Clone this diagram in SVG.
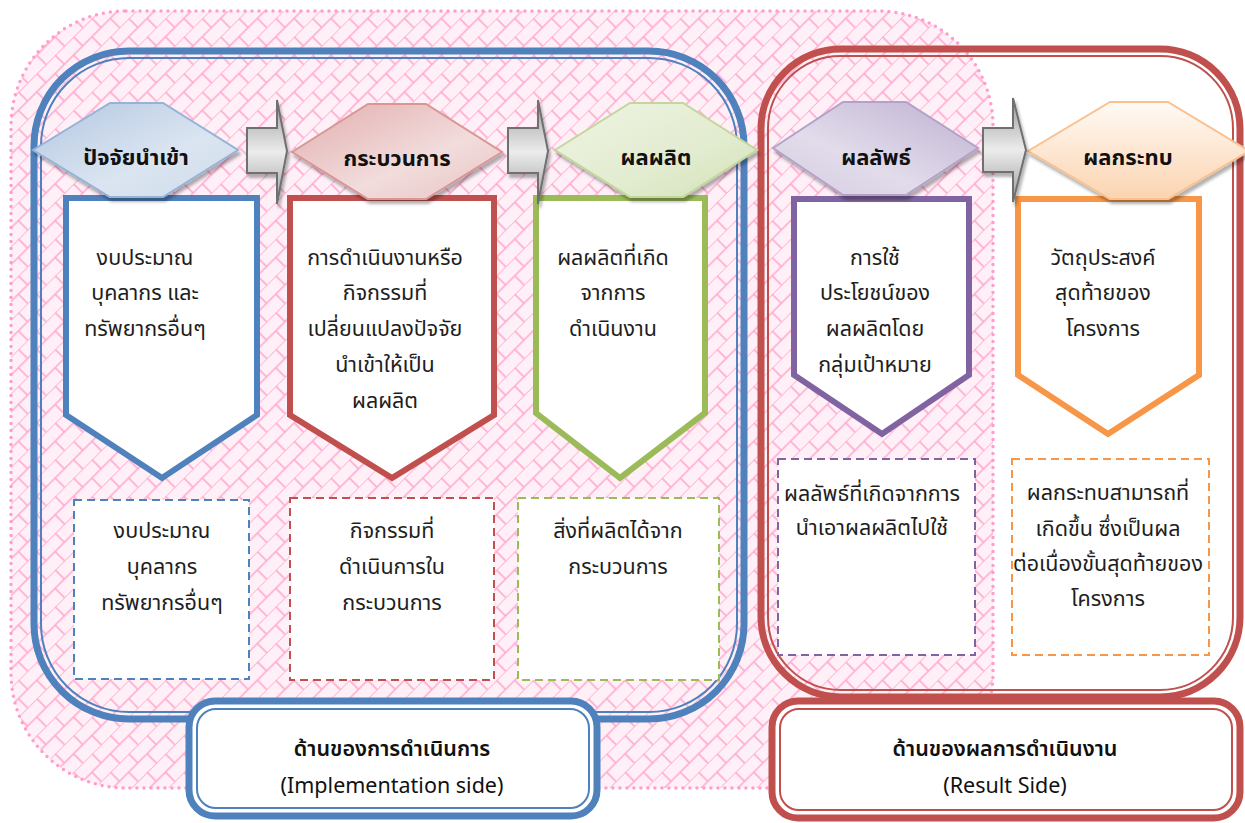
<svg xmlns="http://www.w3.org/2000/svg" width="1245" height="823" viewBox="0 0 1245 823">
<style>
.t{font-family:"Noto Sans Thai","Noto Sans","DejaVu Sans",sans-serif;font-size:21.5px;fill:#1e1e1e;text-anchor:middle}
.h{font-family:"Noto Sans Thai","Noto Sans","DejaVu Sans",sans-serif;font-size:22px;font-weight:bold;fill:#111;text-anchor:middle}
.pent{fill:#fff;stroke-width:6;stroke-linejoin:miter}
.dash{fill:#fff;stroke-width:2;stroke-dasharray:8 5}
.arr{stroke:#6f6f6f;stroke-width:2;fill:url(#gArr);filter:url(#sh)}
</style>
<defs>
<pattern id="brick" width="26" height="26" patternUnits="userSpaceOnUse" patternTransform="rotate(-45)">
<rect width="26" height="26" fill="#fff0f7"/>
<path d="M0 0H26M0 13H26M0 0V13M13 13V26M26 0V13" stroke="#ffa8cf" stroke-width="1.6" fill="none"/>
</pattern>
<filter id="sh" x="-10%" y="-10%" width="130%" height="140%"><feDropShadow dx="2" dy="4" stdDeviation="1.5" flood-color="#000" flood-opacity="0.3"/></filter>
<linearGradient id="gArr" x1="0" y1="0" x2="0" y2="1"><stop offset="0" stop-color="#9a9a9a"/><stop offset="0.5" stop-color="#ececec"/><stop offset="1" stop-color="#9a9a9a"/></linearGradient>
<linearGradient id="gB" x1="0" y1="0" x2="1" y2="1"><stop offset="0" stop-color="#b3c7e1"/><stop offset="0.6" stop-color="#dbe5f1"/><stop offset="1" stop-color="#cfdcec"/></linearGradient>
<linearGradient id="gR" x1="0" y1="0" x2="1" y2="1"><stop offset="0" stop-color="#e2aeae"/><stop offset="0.6" stop-color="#f2dcdc"/><stop offset="1" stop-color="#e8c4c3"/></linearGradient>
<linearGradient id="gG" x1="0" y1="0" x2="1" y2="1"><stop offset="0" stop-color="#eef4e2"/><stop offset="0.6" stop-color="#e2ecd0"/><stop offset="1" stop-color="#d2e1b6"/></linearGradient>
<linearGradient id="gP" x1="1" y1="0" x2="0" y2="1"><stop offset="0" stop-color="#bfb1d2"/><stop offset="0.6" stop-color="#e1dbea"/><stop offset="1" stop-color="#d6cee3"/></linearGradient>
<linearGradient id="gO" x1="0" y1="0" x2="0" y2="1"><stop offset="0" stop-color="#fffaf5"/><stop offset="1" stop-color="#fbd4b0"/></linearGradient>
</defs>

<g id="background">
<rect x="11" y="11" width="982" height="777" rx="115" fill="url(#brick)" stroke="#ff9ecb" stroke-width="3.5" stroke-dasharray="0 7" stroke-linecap="round"/>
</g>

<g id="implementation-frame">
<rect x="34" y="51" width="710" height="668" rx="95" fill="none" stroke="#4f81bd" stroke-width="7"/>
<rect x="41" y="58" width="696" height="654" rx="88" fill="none" stroke="#4f81bd" stroke-width="2"/>
</g>
<g id="result-frame">
<rect x="761" y="49" width="479" height="648" rx="80" fill="none" stroke="#c0504d" stroke-width="7"/>
<rect x="768" y="56" width="465" height="634" rx="73" fill="none" stroke="#c0504d" stroke-width="2"/>
</g>

<g id="node-input">
<path class="pent" stroke="#4f81bd" d="M66 198H257V415L162 478L66 415Z"/>
<polygon points="33,150 110,103 163,103 238,150 163,197 110,197" fill="url(#gB)" stroke="#95b3d7" stroke-width="2" filter="url(#sh)"/>
<text class="h" x="136" y="165">ปัจจัยนำเข้า</text>
<text class="t" x="145" y="265">งบประมาณ</text>
<text class="t" x="145" y="300">บุคลากร และ</text>
<text class="t" x="145" y="336">ทรัพยากรอื่นๆ</text>
</g>
<g id="node-process">
<path class="pent" stroke="#c0504d" d="M290 198H494V415L392 478L290 415Z"/>
<polygon points="292,152 368,104 426,104 502,152 426,199 368,199" fill="url(#gR)" stroke="#d99694" stroke-width="2" filter="url(#sh)"/>
<text class="h" x="397" y="166">กระบวนการ</text>
<text class="t" x="385" y="265">การดำเนินงานหรือ</text>
<text class="t" x="385" y="300">กิจกรรมที่</text>
<text class="t" x="385" y="336">เปลี่ยนแปลงปัจจัย</text>
<text class="t" x="385" y="372">นำเข้าให้เป็น</text>
<text class="t" x="385" y="408">ผลผลิต</text>
</g>
<g id="node-output">
<path class="pent" stroke="#9bbb59" d="M536 198H705V413L620 478L536 413Z"/>
<polygon points="555,150 630,103 683,103 757,150 683,197 630,197" fill="url(#gG)" stroke="#c3d69b" stroke-width="2" filter="url(#sh)"/>
<text class="h" x="656" y="165">ผลผลิต</text>
<text class="t" x="613" y="265">ผลผลิตที่เกิด</text>
<text class="t" x="613" y="300">จากการ</text>
<text class="t" x="613" y="336">ดำเนินงาน</text>
</g>
<g id="node-outcome">
<path class="pent" stroke="#8064a2" d="M794 199H969V375L882 434L794 375Z"/>
<polygon points="773,148 843,102 906,102 978,148 906,195 843,195" fill="url(#gP)" stroke="#b3a2c7" stroke-width="2" filter="url(#sh)"/>
<text class="h" x="876" y="165">ผลลัพธ์</text>
<text class="t" x="875" y="265">การใช้</text>
<text class="t" x="875" y="300">ประโยชน์ของ</text>
<text class="t" x="875" y="336">ผลผลิตโดย</text>
<text class="t" x="875" y="372">กลุ่มเป้าหมาย</text>
</g>
<g id="node-impact">
<path class="pent" stroke="#f79646" d="M1018 199H1199V375L1108 434L1018 375Z"/>
<polygon points="1028,151 1110,102 1168,102 1249,151 1168,199 1110,199" fill="url(#gO)" stroke="#fac090" stroke-width="2" filter="url(#sh)"/>
<text class="h" x="1128" y="165">ผลกระทบ</text>
<text class="t" x="1103" y="265">วัตถุประสงค์</text>
<text class="t" x="1103" y="300">สุดท้ายของ</text>
<text class="t" x="1103" y="336">โครงการ</text>
</g>

<g id="connectors">
<polygon class="arr" points="247,128 277,128 277,100 287,151 277,204 277,173 247,173"/>
<polygon class="arr" points="508,128 538,128 538,100 548,151 538,204 538,173 508,173"/>
<polygon class="arr" points="983,128 1013,128 1013,98 1026,150 1013,202 1013,172 983,172"/>
</g>

<g id="desc-input">
<rect class="dash" stroke="#4f81bd" x="74" y="500" width="175" height="179"/>
<text class="t" x="162" y="538">งบประมาณ</text>
<text class="t" x="162" y="574">บุคลากร</text>
<text class="t" x="162" y="610">ทรัพยากรอื่นๆ</text>
</g>
<g id="desc-process">
<rect class="dash" stroke="#c0504d" x="290" y="498" width="204" height="182"/>
<text class="t" x="392" y="538">กิจกรรมที่</text>
<text class="t" x="392" y="574">ดำเนินการใน</text>
<text class="t" x="392" y="610">กระบวนการ</text>
</g>
<g id="desc-output">
<rect class="dash" stroke="#9bbb59" x="518" y="498" width="201" height="182"/>
<text class="t" x="618" y="538">สิ่งที่ผลิตได้จาก</text>
<text class="t" x="618" y="574">กระบวนการ</text>
</g>
<g id="desc-outcome">
<rect class="dash" stroke="#8064a2" x="778" y="459" width="197" height="196"/>
<text class="t" x="872" y="501">ผลลัพธ์ที่เกิดจากการ</text>
<text class="t" x="872" y="535">นำเอาผลผลิตไปใช้</text>
</g>
<g id="desc-impact">
<rect class="dash" stroke="#f79646" x="1012" y="459" width="197" height="196"/>
<text class="t" x="1108" y="500">ผลกระทบสามารถที่</text>
<text class="t" x="1108" y="536">เกิดขึ้น ซึ่งเป็นผล</text>
<text class="t" x="1108" y="571">ต่อเนื่องขั้นสุดท้ายของ</text>
<text class="t" x="1108" y="606">โครงการ</text>
</g>

<g id="label-implementation">
<rect x="189" y="701" width="408" height="115" rx="26" fill="#fff" stroke="#4f81bd" stroke-width="7"/>
<rect x="197" y="709" width="392" height="99" rx="19" fill="none" stroke="#4f81bd" stroke-width="2"/>
<text class="h" x="392" y="756" style="font-size:21.5px;font-weight:600">ด้านของการดำเนินการ</text>
<text class="t" x="392" y="793" style="font-size:21.5px;fill:#111">(Implementation side)</text>
</g>
<g id="label-result">
<rect x="772" y="701" width="468" height="117" rx="26" fill="#fff" stroke="#c0504d" stroke-width="7"/>
<rect x="780" y="709" width="452" height="101" rx="19" fill="none" stroke="#c0504d" stroke-width="2"/>
<text class="h" x="1005" y="756" style="font-size:21.5px;font-weight:600">ด้านของผลการดำเนินงาน</text>
<text class="t" x="1005" y="793" style="font-size:21.5px;fill:#111">(Result Side)</text>
</g>
</svg>
